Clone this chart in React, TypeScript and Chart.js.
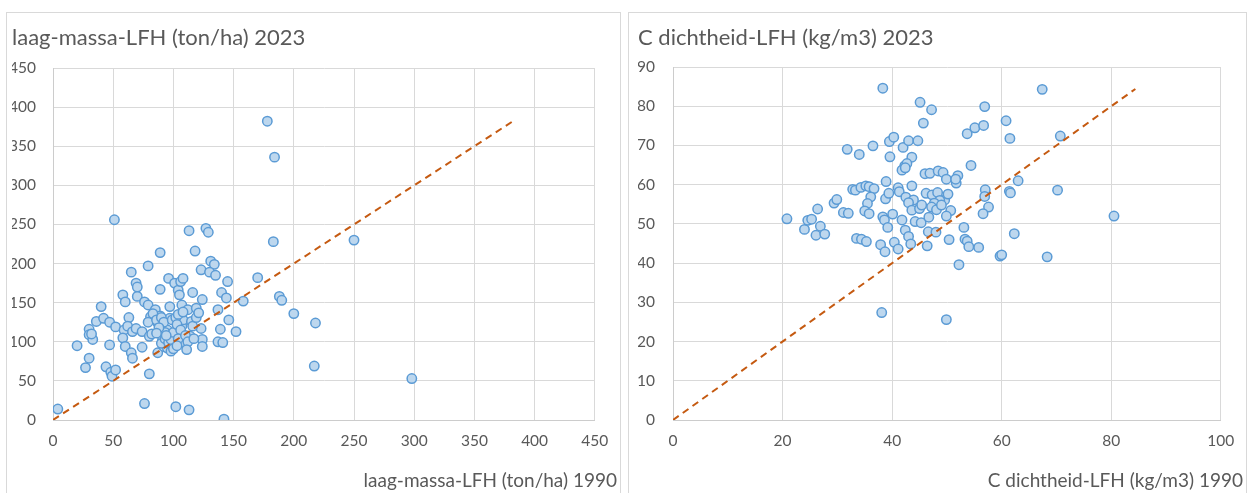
import React, { useEffect, useRef } from "react";
import { Chart, registerables } from "chart.js";

Chart.register(...registerables);

const FONT = "Lato, 'Open Sans', sans-serif";
const TEXT = "#595959";
const GRID = "#d9d9d9";
const AXIS = "#cccccc";

// ---------- left chart: laag-massa-LFH ----------
const massaTitle = "laag-massa-LFH (ton/ha) 2023";
const massaXTitle = "laag-massa-LFH (ton/ha) 1990";
const massaTicks = [0, 50, 100, 150, 200, 250, 300, 350, 400, 450];
const massaLineEnd = 383;
const massa1990 = [
  4, 20, 27, 30, 30, 30, 33, 32, 36, 40, 42, 47, 47, 44, 48, 49, 52, 51, 52, 58,
  60, 59, 58, 60, 63, 62, 65, 65, 66, 66, 69, 70, 70, 69, 74, 74, 76, 79, 76, 79,
  80, 80, 82, 81, 79, 85, 87, 87, 89, 89, 89, 91, 92, 95, 95, 96, 97, 97, 99, 101,
  102, 101, 104, 105, 106, 107, 108, 107, 108, 109, 112, 113, 113, 114, 115, 118, 116, 119, 123, 123,
  124, 124, 127, 129, 131, 134, 130, 135, 137, 140, 139, 137, 142, 141, 145, 144, 146, 152, 158, 170,
  178, 183, 184, 188, 190, 200, 218, 217, 250, 298,
  83, 86, 90, 92, 93, 88, 86, 90, 93, 96, 98, 100, 94, 99, 102, 104, 108, 103, 106, 104,
  110, 112, 116, 119, 121, 98, 100, 103, 117, 111, 124,
];
const massa2023 = [
  14, 95, 67, 79, 116, 109, 103, 110, 126, 145, 130, 125, 96, 68, 61, 56, 64, 256, 119, 160,
  151, 115, 105, 94, 131, 120, 189, 86, 79, 113, 175, 170, 158, 117, 93, 113, 21, 197, 151, 147,
  59, 107, 110, 132, 125, 141, 86, 124, 214, 167, 133, 103, 94, 92, 115, 181, 145, 130, 109, 175,
  17, 96, 166, 160, 177, 147, 181, 120, 128, 99, 141, 13, 242, 107, 126, 216, 163, 143, 192, 117,
  154, 103, 245, 240, 203, 199, 189, 185, 141, 163, 116, 100, 1, 99, 177, 156, 128, 113, 152, 182,
  382, 228, 336, 158, 153, 136, 124, 69, 230, 53,
  136, 128, 131, 125, 112, 118, 111, 98, 104, 99, 103, 112, 108, 128, 131, 135, 138, 122, 115, 104,
  108, 100, 120, 131, 137, 88, 91, 95, 104, 90, 94,
];

// ---------- right chart: C dichtheid-LFH ----------
const dichtTitle = "C dichtheid-LFH (kg/m3) 2023";
const dichtXTitle = "C dichtheid-LFH (kg/m3) 1990";
const dichtXTicks = [0, 20, 40, 60, 80, 100];
const dichtYTicks = [0, 10, 20, 30, 40, 50, 60, 70, 80, 90];
const dichtLineEnd = 84.4;
const dicht1990 = [
  20.8, 24.0, 24.6, 25.3, 26.4, 26.9, 26.1, 27.7, 29.4, 29.9, 31.1, 32.0, 31.8, 34.0, 36.5, 32.8, 33.3, 34.3, 35.2, 35.8,
  36.7, 36.1, 35.5, 35.0, 35.8, 33.5, 34.4, 35.3, 38.3, 38.9, 38.8, 39.4, 39.5, 40.3, 39.6, 38.3, 38.6, 39.2, 40.1, 37.9,
  38.7, 40.4, 41.1, 41.1, 41.3, 42.0, 43.0, 44.7, 43.6, 42.3, 42.7, 41.8, 42.4, 45.1, 47.2, 45.7, 43.6, 42.5, 43.9, 43.0,
  43.6, 45.0, 45.4, 41.8, 44.2, 45.3, 42.4, 43.0, 43.4, 46.4, 46.0, 46.9, 46.2, 47.3, 46.7, 46.6, 48.4, 49.3, 49.9, 51.7,
  52.0, 51.6, 48.3, 49.6, 48.7, 47.7, 47.2, 48.1, 50.7, 49.9, 48.0, 53.1, 50.4, 53.3, 53.7, 54.0, 55.8, 52.2, 57.0, 56.9,
  57.6, 56.6, 59.7, 60.0, 61.4, 61.6, 53.7, 55.1, 56.7, 56.9, 60.8, 61.5, 70.7, 67.4, 54.4, 63.0, 70.2, 80.5, 62.3, 68.3,
  49.9, 38.1, 49.0, 50.2,
];
const dicht2023 = [
  51.3, 48.6, 50.9, 51.2, 53.8, 49.4, 47.1, 47.4, 55.3, 56.2, 52.9, 52.7, 69.0, 67.7, 69.9, 58.8, 58.6, 59.3, 59.7, 59.5,
  59.0, 56.9, 55.2, 53.3, 52.6, 46.3, 46.1, 45.5, 84.6, 60.8, 56.4, 57.8, 71.0, 72.1, 67.1, 51.8, 51.0, 49.1, 52.5, 44.7,
  42.9, 45.3, 43.6, 59.2, 58.2, 69.5, 71.2, 71.2, 67.0, 64.8, 65.4, 63.7, 64.3, 81.0, 79.1, 75.7, 59.7, 56.8, 56.1, 55.4,
  53.5, 53.9, 54.8, 51.0, 50.6, 50.3, 48.4, 46.8, 44.9, 44.4, 62.8, 62.9, 57.8, 57.4, 51.7, 48.0, 63.5, 63.1, 61.4, 60.4,
  62.3, 61.4, 58.0, 56.1, 56.0, 55.3, 54.3, 53.6, 53.4, 52.0, 47.9, 49.1, 46.0, 46.1, 45.6, 44.2, 44.0, 39.6, 58.7, 57.0,
  54.3, 52.6, 41.8, 42.1, 58.3, 57.9, 73.0, 74.5, 75.1, 79.9, 76.3, 71.8, 72.4, 84.3, 64.9, 61.0, 58.6, 52.0, 47.5, 41.6,
  25.6, 27.4, 54.8, 57.6,
];

type PanelProps = {
  left: number;
  width: number;
  title: string;
  xTitle: string;
  xs: number[];
  ys: number[];
  xTicks: number[];
  yTicks: number[];
  lineEnd: number;
  padLeft: number;
  yWidth: number;
  yPad: number;
  rightW: number;
  titleBottom: number;
};

function Panel(p: PanelProps) {
  const ref = useRef<HTMLCanvasElement | null>(null);
  const canvasW = p.width - 2;
  const canvasH = 480;

  useEffect(() => {
    if (!ref.current) return;
    const xMin = p.xTicks[0];
    const xMax = p.xTicks[p.xTicks.length - 1];
    const yMin = p.yTicks[0];
    const yMax = p.yTicks[p.yTicks.length - 1];
    const tickFont = { family: FONT, size: 15.5 };
    const chart = new Chart(ref.current, {
      type: "scatter",
      data: {
        datasets: [
          {
            type: "scatter",
            data: p.xs.map((x, i) => ({ x, y: p.ys[i] })),
            backgroundColor: "#BDD7EE",
            borderColor: "#5B9BD5",
            borderWidth: 1.5,
            pointRadius: 4.7,
            pointHoverRadius: 4.7,
            order: 2,
          },
          {
            type: "line",
            data: [
              { x: 0, y: 0 },
              { x: p.lineEnd, y: p.lineEnd },
            ],
            borderColor: "#C55A11",
            borderWidth: 2,
            borderDash: [7, 5],
            pointRadius: 0,
            fill: false,
            order: 1,
          },
        ],
      } as any,
      options: {
        animation: false,
        responsive: false,
        maintainAspectRatio: false,
        layout: { padding: { left: p.padLeft, right: 3, top: 0, bottom: 0 } },
        plugins: {
          legend: { display: false },
          tooltip: { enabled: false },
          title: {
            display: true,
            text: p.title,
            align: "start",
            color: TEXT,
            font: { family: FONT, size: 22, weight: "normal" },
            padding: { top: 11.8, bottom: p.titleBottom },
          },
          subtitle: {
            display: true,
            text: p.xTitle,
            position: "bottom",
            align: "end",
            color: TEXT,
            font: { family: FONT, size: 19, weight: "normal" },
            padding: { top: 0, bottom: 1 },
          },
        },
        scales: {
          x: {
            type: "linear",
            min: xMin,
            max: xMax,
            afterBuildTicks: (s: any) => {
              s.ticks = p.xTicks.map((v) => ({ value: v }));
            },
            afterFit: (s: any) => {
              s.height = 49.2;
            },
            grid: { color: GRID, drawTicks: false },
            border: { color: AXIS },
            ticks: { padding: 11.7, color: TEXT, font: tickFont, maxRotation: 0 },
          },
          y: {
            type: "linear",
            min: yMin,
            max: yMax,
            afterBuildTicks: (s: any) => {
              s.ticks = p.yTicks.map((v) => ({ value: v }));
            },
            afterFit: (s: any) => {
              s.width = p.yWidth;
            },
            grid: { color: GRID, drawTicks: false },
            border: { color: AXIS },
            ticks: { padding: p.yPad, color: TEXT, font: tickFont },
          },
          yPad: {
            type: "linear",
            position: "right",
            display: true,
            grid: { display: false },
            border: { display: false },
            ticks: { display: false },
            afterFit: (s: any) => {
              s.width = p.rightW;
            },
          },
        },
      } as any,
    });
    return () => chart.destroy();
  }, []);

  return (
    <div
      style={{
        position: "absolute",
        left: p.left,
        top: 12,
        width: p.width,
        height: 490,
        border: "1px solid #d9d9d9",
        boxSizing: "border-box",
        background: "#fff",
      }}
    >
      <canvas
        ref={ref}
        width={canvasW}
        height={canvasH}
        style={{ display: "block", width: canvasW, height: canvasH }}
      />
    </div>
  );
}

export default function App() {
  return (
    <div style={{ position: "absolute", left: 0, top: 0, width: 1250, height: 493, background: "#fff", overflow: "hidden" }}>
      <Panel
        left={6}
        width={615}
        title={massaTitle}
        xTitle={massaXTitle}
        xs={massa1990}
        ys={massa2023}
        xTicks={massaTicks}
        yTicks={massaTicks}
        lineEnd={massaLineEnd}
        padLeft={5}
        yWidth={41}
        yPad={17}
        rightW={19}
        titleBottom={16.8}
      />
      <Panel
        left={628}
        width={619}
        title={dichtTitle}
        xTitle={dichtXTitle}
        xs={dicht1990}
        ys={dicht2023}
        xTicks={dichtXTicks}
        yTicks={dichtYTicks}
        lineEnd={dichtLineEnd}
        padLeft={9}
        yWidth={35}
        yPad={18}
        rightW={19}
        titleBottom={15.8}
      />
    </div>
  );
}
